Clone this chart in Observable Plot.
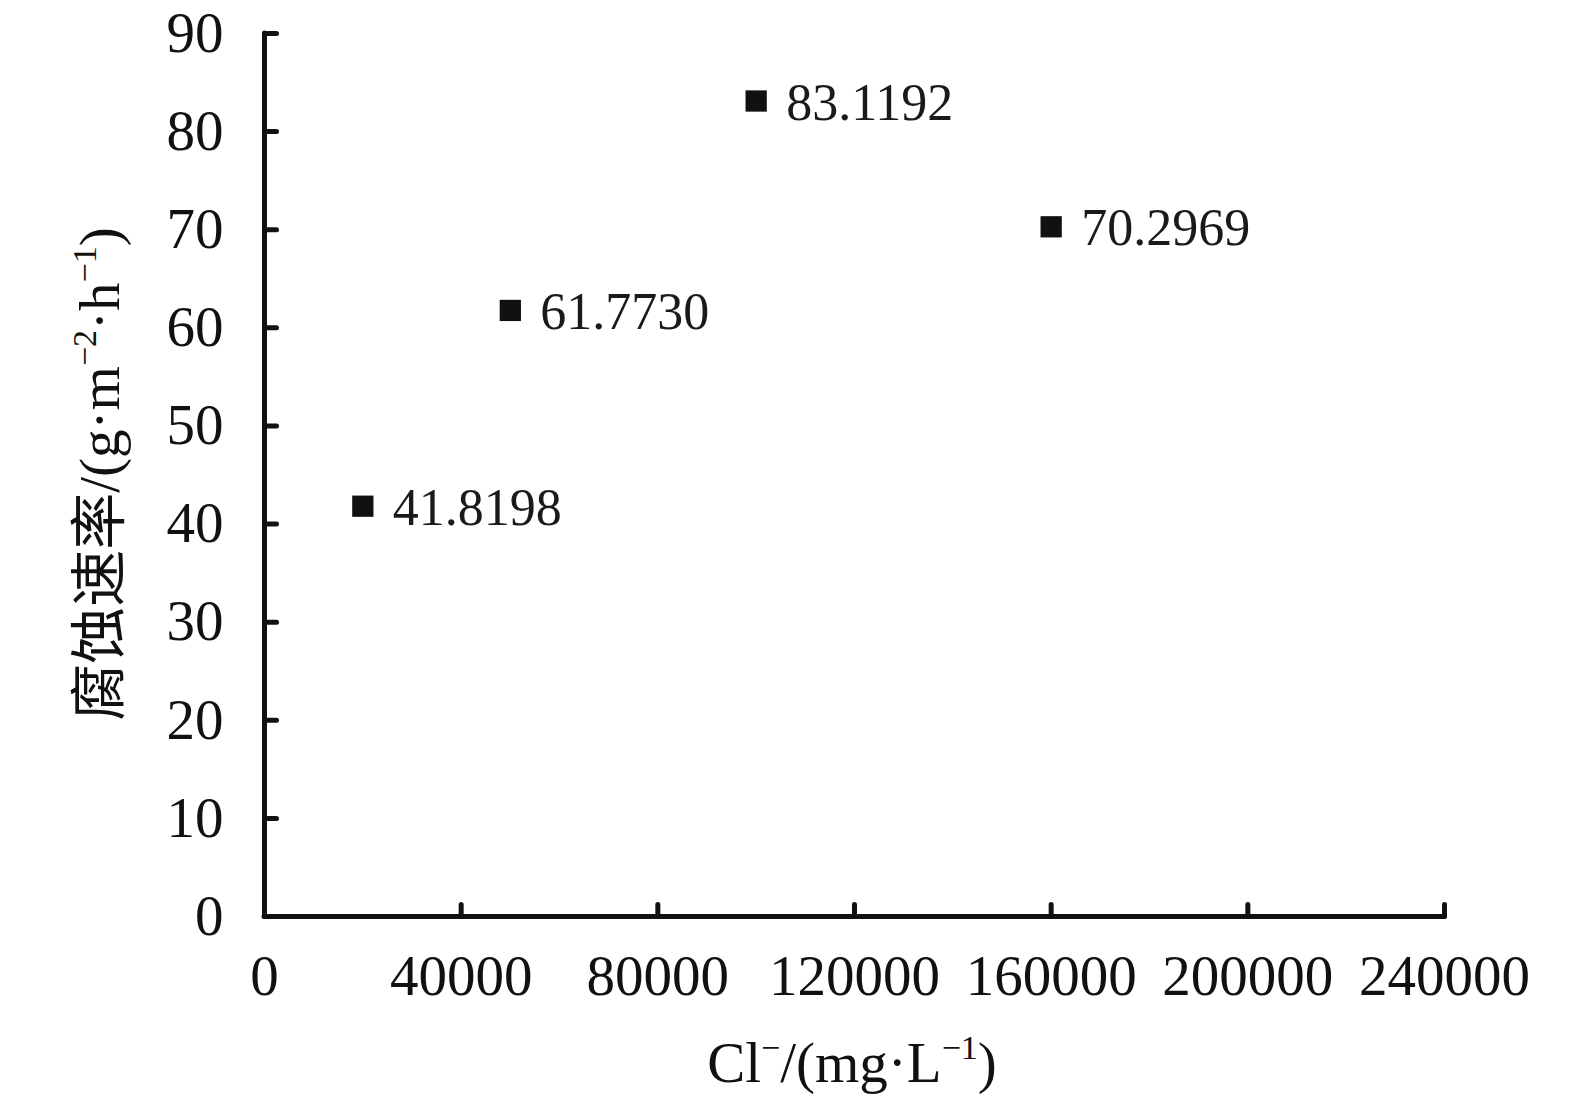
<!DOCTYPE html>
<html>
<head>
<meta charset="utf-8">
<script src="https://cdn.jsdelivr.net/npm/d3@7"></script>
<script src="https://cdn.jsdelivr.net/npm/@observablehq/plot@0.6"></script>
<style>
  html, body { margin: 0; padding: 0; background: #fff; }
  #chart svg { display: block; }
</style>
</head>
<body>
<div id="chart"></div>
<script>
// Data
const chloride = [20000, 50000, 100000, 160000];          // Cl⁻ (mg·L⁻¹)
const corrosionRate = [41.8198, 61.7730, 83.1192, 70.2969]; // g·m⁻²·h⁻¹
const xTicks = [0, 40000, 80000, 120000, 160000, 200000, 240000];
const yTicks = [0, 10, 20, 30, 40, 50, 60, 70, 80, 90];

const data = chloride.map((c, i) => ({c, r: corrosionRate[i]}));

const serif = "'Liberation Serif', 'Times New Roman', 'Noto Sans CJK SC', serif";
const ink = "#111";

const tickLine = { draw(ctx, l) { ctx.moveTo(0, 0); ctx.lineTo(0, -l); } };

const W = 1575, H = 1102;
const mL = 264, mR = 131, mT = 33, mB = 186;

const plot = Plot.plot({
  width: W,
  height: H,
  marginLeft: mL,
  marginRight: mR,
  marginTop: mT,
  marginBottom: mB,
  style: { background: "#fff", fontFamily: serif, color: ink },
  x: { domain: [0, 240000] },
  y: { domain: [0, 90] },
  marks: [
    Plot.axisX({ ticks: xTicks, tickSize: 0, tickPadding: 38, tickFormat: d3.format("d"),
                 fontSize: 57, fontFamily: serif, fill: ink, label: null }),
    Plot.axisY({ ticks: yTicks, tickSize: 0, tickPadding: 41, tickFormat: d3.format("d"),
                 fontSize: 57, fontFamily: serif, fill: ink, label: null }),
    // axis lines
    Plot.ruleY([0], { stroke: ink, strokeWidth: 5, strokeLinecap: "round" }),
    Plot.ruleX([0], { stroke: ink, strokeWidth: 5, strokeLinecap: "round" }),
    // inward ticks
    Plot.vector(xTicks.slice(1), { x: d => d, y: 0, rotate: 0, length: 12, anchor: "start",
                 shape: tickLine, stroke: ink, strokeWidth: 5, strokeLinecap: "round" }),
    Plot.vector(yTicks.slice(1), { x: 0, y: d => d, rotate: 90, length: 12, anchor: "start",
                 shape: tickLine, stroke: ink, strokeWidth: 5, strokeLinecap: "round" }),
    // points
    Plot.dot(data, { x: "c", y: "r", symbol: "square", r: 12, fill: ink, stroke: null }),
    // value labels
    Plot.text(data, { x: "c", y: "r", text: d => d3.format(".4f")(d.r), dx: 30, dy: 2, textAnchor: "start",
                 fontSize: 52, fontFamily: serif, fill: "#1a1a1a", lineAnchor: "middle" })
  ]
});

document.getElementById("chart").appendChild(plot);

// Axis titles with superscripts
const svg = d3.select(plot);

function addLabel(parts, attrs) {
  const t = svg.append("text")
    .attr("fill", ink)
    .attr("font-family", serif)
    .attr("font-size", 57);
  Object.entries(attrs).forEach(([k, v]) => t.attr(k, v));
  let shifted = false;
  parts.forEach(p => {
    const sp = t.append("tspan").text(p.t);
    if (p.sup) {
      sp.attr("font-size", 34).attr("dy", -23);
      shifted = true;
    } else if (shifted) {
      sp.attr("dy", 23);
      shifted = false;
    }
  });
  return t;
}

// x-axis title
addLabel([
  { t: "Cl" }, { t: "−", sup: true }, { t: "/(mg·L" }, { t: "−1", sup: true }, { t: ")" }
], { x: 852, y: 1082, "text-anchor": "middle" });

// y-axis title
addLabel([
  { t: "腐蚀速率/(g·m" }, { t: "−2", sup: true }, { t: "·h" }, { t: "−1", sup: true }, { t: ")" }
], { transform: "translate(119,474) rotate(-90)", "text-anchor": "middle" });
</script>
</body>
</html>
